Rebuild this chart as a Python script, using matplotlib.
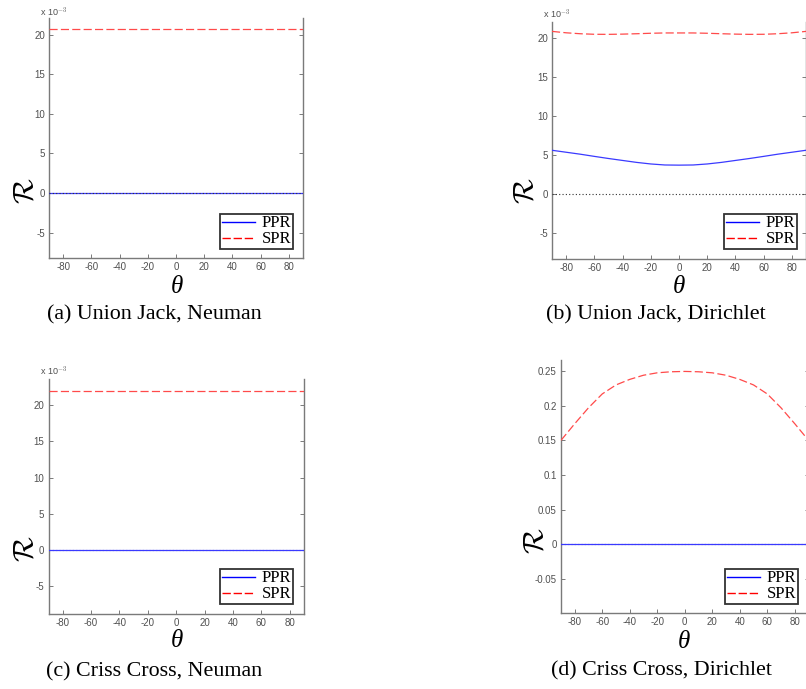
import matplotlib
matplotlib.use("Agg")
import matplotlib.pyplot as plt
from matplotlib.lines import Line2D

plt.rcParams['axes.unicode_minus'] = False
plt.rcParams['mathtext.fontset'] = 'cm'

# ---------------- data ----------------
theta = [-90, -80, -70, -60, -50, -40, -30, -20, -10, 0, 10, 20, 30, 40, 50, 60, 70, 80, 90]

# values in units of 1e-3 for panels a-c
ppr_a = [0.0] * 19
spr_a = [20.7] * 19

ppr_b = [5.6, 5.35, 5.1, 4.82, 4.55, 4.3, 4.05, 3.85, 3.72, 3.7, 3.72, 3.85, 4.05, 4.3, 4.55, 4.82, 5.1, 5.35, 5.6]
spr_b = [20.8, 20.62, 20.5, 20.43, 20.42, 20.45, 20.5, 20.56, 20.6, 20.6, 20.6, 20.56, 20.5, 20.45, 20.42, 20.43, 20.5, 20.62, 20.8]

ppr_c = [0.0] * 19
spr_c = [22.0] * 19

# panel d in plain units
ppr_d = [0.0] * 19
spr_d = [0.150, 0.174, 0.197, 0.217, 0.230, 0.238, 0.244, 0.2475, 0.249, 0.2495,
         0.249, 0.2475, 0.244, 0.238, 0.230, 0.217, 0.197, 0.174, 0.150]

xticks = [-80, -60, -40, -20, 0, 20, 40, 60, 80]
xtick_labels = ['-80', '-60', '-40', '-20', '0', '20', '40', '60', '80']
yticks_e3 = [-5, 0, 5, 10, 15, 20]
ytick_labels_e3 = ['-5', '0', '5', '10', '15', '20']
yticks_d = [-0.05, 0, 0.05, 0.1, 0.15, 0.2, 0.25]
ytick_labels_d = ['-0.05', '0', '0.05', '0.1', '0.15', '0.2', '0.25']

captions = ['(a) Union Jack, Neuman', '(b) Union Jack, Dirichlet',
            '(c) Criss Cross, Neuman', '(d) Criss Cross, Dirichlet']
legend_labels = ['PPR', 'SPR']

# ---------------- layout ----------------
W, H = 806, 689
fig = plt.figure(figsize=(W / 100, H / 100), dpi=100)


def px_axes(left, right, top, bottom):
    return fig.add_axes([left / W, 1 - bottom / H, (right - left) / W, (bottom - top) / H])


def fx(x):
    return x / W


def fy(y):
    return 1 - y / H


BLUE = '#3a3aff'
RED = '#ff4a4a'
SPINE = '#7a7a7a'
TICKC = '#505050'

panels = [
    dict(box=(49, 303, 18, 258), ylim=(-8.2, 22.1), ppr=ppr_a, spr=spr_a, yt=yticks_e3, ytl=ytick_labels_e3,
         exp=(40, 16), rlab=(25, 191), th=(177, 287), cap=(154, 315), leg=(293, 249), zero_top=True),
    dict(box=(552, 806, 22, 259), ylim=(-8.3, 22.0), ppr=ppr_b, spr=spr_b, yt=yticks_e3, ytl=ytick_labels_e3,
         exp=(543, 18), rlab=(524, 191), th=(679, 287), cap=(656, 315), leg=(797, 249), zero_top=True),
    dict(box=(48.5, 304, 379, 614), ylim=(-8.8, 23.6), ppr=ppr_c, spr=spr_c, yt=yticks_e3, ytl=ytick_labels_e3,
         exp=(40, 375), rlab=(25, 549), th=(177, 641), cap=(154, 672), leg=(293, 604), zero_top=False),
    dict(box=(561, 808.5, 360, 613), ylim=(-0.0994, 0.266), ppr=ppr_d, spr=spr_d, yt=yticks_d, ytl=ytick_labels_d,
         exp=None, rlab=(535, 541), th=(684, 642), cap=(661, 671), leg=(798, 604), zero_top=False),
]

for i, p in enumerate(panels):
    l, r, t, b = p['box']
    ax = px_axes(l, r, t, b)
    ax.set_xlim(-90, 90)
    ax.set_ylim(*p['ylim'])
    # zero reference line
    ax.plot([theta[0], theta[-1]], [0, 0], color='#333333', lw=0.8, ls=(0, (1, 2)),
            zorder=4 if p['zero_top'] else 1)
    ax.plot(theta, p['ppr'], color=BLUE, lw=0.9, zorder=3)
    ax.plot(theta, p['spr'], color=RED, lw=0.9, dashes=(6.5, 2.6), zorder=3)

    ax.set_xticks(xticks)
    ax.set_xticklabels(xtick_labels)
    ax.set_yticks(p['yt'])
    ax.set_yticklabels(p['ytl'])
    ax.tick_params(direction='in', length=3, width=0.7, colors=SPINE, labelcolor=TICKC,
                   labelsize=7, pad=3, left=True, right=True, bottom=True, top=False)
    for lab in ax.get_xticklabels() + ax.get_yticklabels():
        lab.set_fontfamily('Liberation Sans')
    ax.spines['top'].set_visible(False)
    for s in ['left', 'right', 'bottom']:
        ax.spines[s].set_color(SPINE)
        ax.spines[s].set_linewidth(1.0)

    handles = [Line2D([], [], color='blue', lw=1.0),
               Line2D([], [], color='red', lw=1.0, dashes=(6, 2))]
    lx, ly = p['leg']
    leg = ax.legend(handles, legend_labels, loc='lower right',
                    bbox_to_anchor=(fx(lx), fy(ly)), bbox_transform=fig.transFigure,
                    borderaxespad=0, frameon=True, fancybox=False,
                    prop={'family': 'Liberation Serif', 'size': 12},
                    labelspacing=0.0, borderpad=0.1, handlelength=2.0, handletextpad=0.4)
    leg.get_frame().set_edgecolor('black')
    leg.get_frame().set_linewidth(1.3)

    if p['exp'] is not None:
        ex, ey = p['exp']
        fig.text(fx(ex), fy(ey), r'x 10$^{-3}$', fontsize=6.5, color=TICKC,
                 family='Liberation Sans', ha='left', va='baseline')
    rx, ry = p['rlab']
    fig.text(fx(rx), fy(ry), r'$\mathcal{R}$', fontsize=21, rotation=90, ha='center', va='center')
    tx, ty = p['th']
    fig.text(fx(tx), fy(ty), 'θ', fontsize=18, family='Liberation Serif', style='italic',
             ha='center', va='center')
    cx, cy = p['cap']
    fig.text(fx(cx), fy(cy), captions[i], fontsize=15.8, family='Liberation Serif',
             ha='center', va='center')

fig.savefig('out.png', dpi=100)
